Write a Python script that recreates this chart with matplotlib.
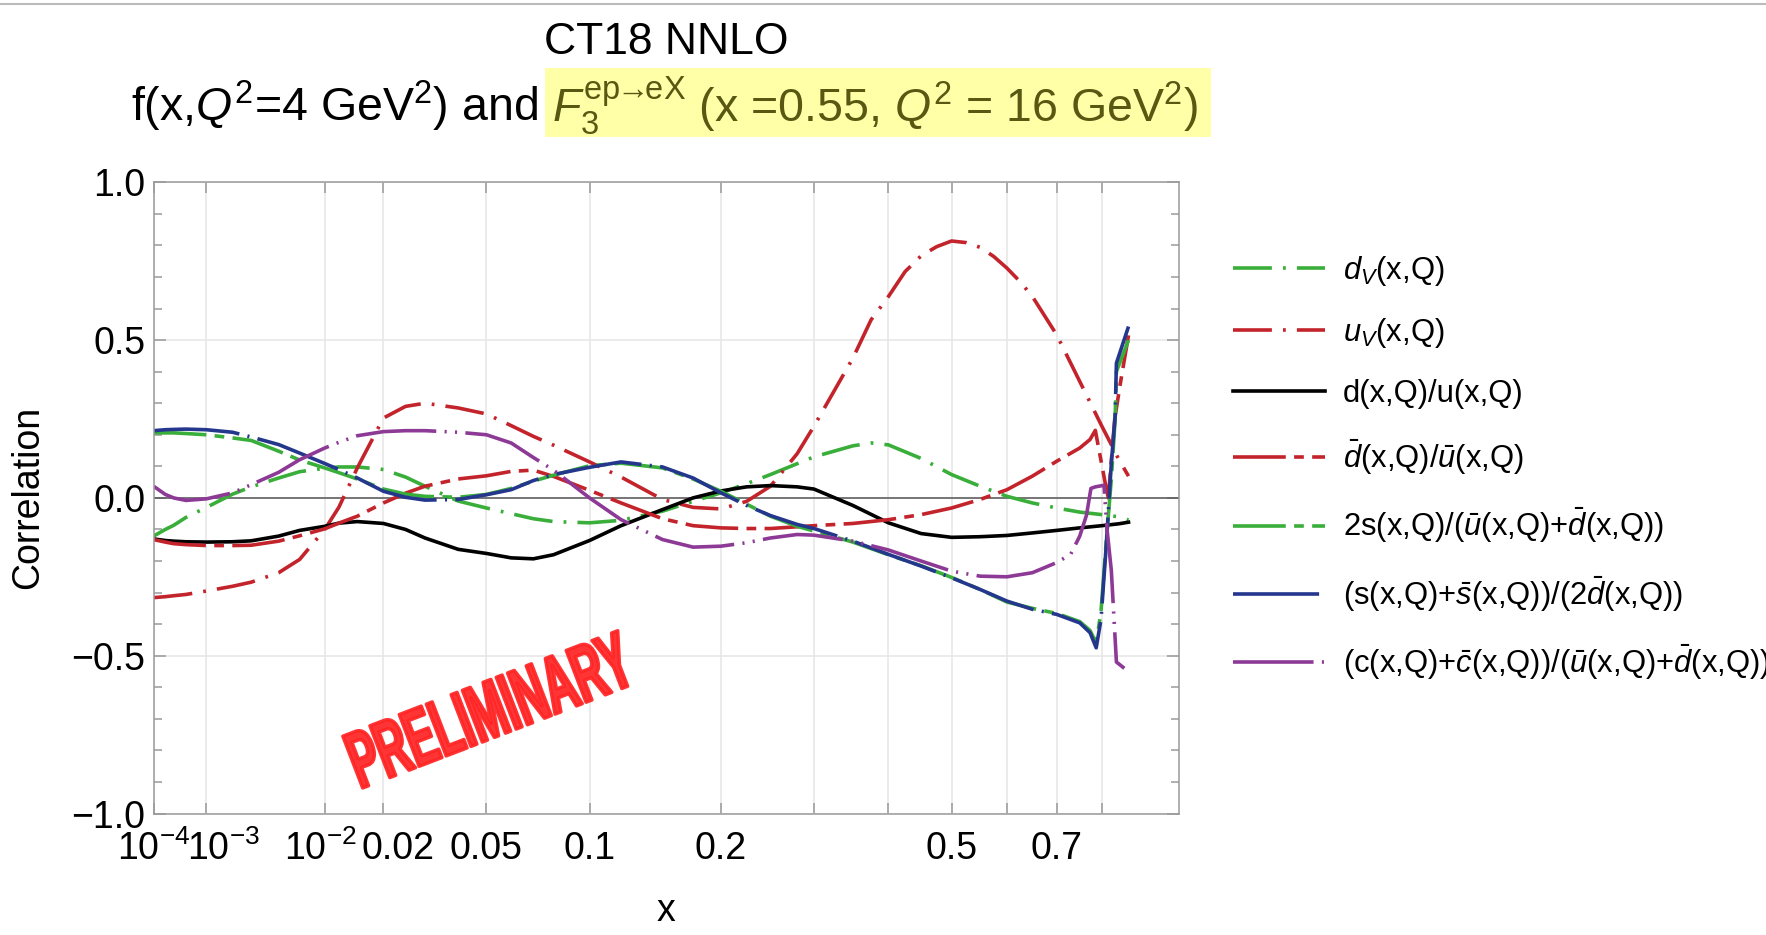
import numpy as np
import matplotlib
matplotlib.use("Agg")
import matplotlib.pyplot as plt
from matplotlib import patheffects
from matplotlib.transforms import Affine2D, ScaledTranslation
from matplotlib.lines import Line2D
from matplotlib.patches import Rectangle

# ---------------------------------------------------------------------------
# Correlation cosines between PDFs at Q^2 = 4 GeV^2 and F3 (x=0.55, Q^2=16)
# ---------------------------------------------------------------------------
x_dv = [1e-4, 2e-4, 3e-4, 5e-4, 1e-3, 2e-3, 3e-3, 5e-3, 7e-3, 0.01,
        0.012, 0.015, 0.02, 0.025, 0.03, 0.04, 0.05, 0.06, 0.07, 0.08,
        0.1, 0.12, 0.15, 0.175, 0.2, 0.225, 0.25, 0.3, 0.35, 0.375,
        0.4, 0.45, 0.5, 0.55, 0.6, 0.65, 0.7, 0.75, 0.8, 0.84, 0.863]
corr_dv = [-0.121, -0.100, -0.087, -0.062, -0.030, 0.012, 0.035, 0.063, 0.083, 0.094,
           0.098, 0.098, 0.090, 0.066, 0.037, -0.010, -0.032, -0.050, -0.066, -0.075,
           -0.079, -0.071, -0.042, -0.011, 0.016, 0.045, 0.074, 0.130, 0.165, 0.174,
           0.168, 0.125, 0.074, 0.037, 0.005, -0.016, -0.032, -0.045, -0.053, -0.060, -0.070]

x_uv = [1e-4, 2e-4, 3e-4, 5e-4, 1e-3, 2e-3, 3e-3, 5e-3, 7e-3, 0.01,
        0.012, 0.015, 0.02, 0.025, 0.03, 0.04, 0.05, 0.06, 0.07, 0.08,
        0.1, 0.12, 0.15, 0.175, 0.2, 0.225, 0.25, 0.28, 0.3, 0.35,
        0.375, 0.4, 0.425, 0.45, 0.475, 0.5, 0.525, 0.55, 0.575, 0.6,
        0.625, 0.65, 0.7, 0.75, 0.8, 0.82, 0.84, 0.863]
corr_uv = [-0.316, -0.313, -0.310, -0.306, -0.295, -0.280, -0.267, -0.237, -0.195, -0.100,
           -0.030, 0.095, 0.253, 0.290, 0.300, 0.285, 0.266, 0.229, 0.195, 0.167,
           0.114, 0.066, -0.005, -0.030, -0.035, -0.011, 0.037, 0.140, 0.227, 0.443,
           0.564, 0.638, 0.717, 0.767, 0.796, 0.814, 0.809, 0.794, 0.765, 0.728,
           0.686, 0.638, 0.517, 0.369, 0.227, 0.174, 0.121, 0.069]

x_du = [1e-4, 2e-4, 3e-4, 5e-4, 1e-3, 2e-3, 3e-3, 5e-3, 7e-3, 0.01,
        0.012, 0.015, 0.02, 0.025, 0.03, 0.04, 0.05, 0.06, 0.07, 0.08,
        0.1, 0.12, 0.15, 0.175, 0.2, 0.225, 0.25, 0.28, 0.3, 0.35,
        0.4, 0.45, 0.5, 0.55, 0.6, 0.65, 0.7, 0.75, 0.8, 0.82, 0.84, 0.863]
corr_du = [-0.130, -0.135, -0.137, -0.139, -0.140, -0.139, -0.136, -0.121, -0.103, -0.090,
           -0.080, -0.075, -0.081, -0.100, -0.127, -0.163, -0.176, -0.190, -0.193, -0.180,
           -0.135, -0.088, -0.037, 0.000, 0.022, 0.035, 0.039, 0.035, 0.028, -0.024,
           -0.079, -0.113, -0.125, -0.123, -0.119, -0.111, -0.103, -0.095, -0.088, -0.085,
           -0.082, -0.077]

x_dbub = [1e-4, 2e-4, 3e-4, 5e-4, 1e-3, 2e-3, 3e-3, 5e-3, 7e-3, 0.01,
          0.012, 0.015, 0.02, 0.025, 0.03, 0.04, 0.05, 0.06, 0.07, 0.08,
          0.1, 0.12, 0.15, 0.175, 0.2, 0.225, 0.25, 0.3, 0.35, 0.4,
          0.45, 0.5, 0.55, 0.6, 0.65, 0.7, 0.75, 0.773, 0.785, 0.808,
          0.815, 0.83, 0.843, 0.863]
corr_dbub = [-0.132, -0.140, -0.145, -0.148, -0.151, -0.151, -0.150, -0.137, -0.120, -0.098,
             -0.080, -0.058, -0.016, 0.015, 0.037, 0.060, 0.070, 0.084, 0.088, 0.068,
             0.024, -0.016, -0.066, -0.088, -0.095, -0.097, -0.097, -0.088, -0.081, -0.069,
             -0.053, -0.032, -0.005, 0.026, 0.069, 0.116, 0.158, 0.185, 0.214, 0.045,
             0.000, 0.250, 0.360, 0.515]

x_strange = [1e-4, 2e-4, 3e-4, 5e-4, 1e-3, 2e-3, 3e-3, 5e-3, 7e-3, 0.01,
             0.012, 0.015, 0.02, 0.025, 0.03, 0.04, 0.05, 0.06, 0.07, 0.08,
             0.1, 0.12, 0.15, 0.175, 0.2, 0.225, 0.25, 0.28, 0.3, 0.35,
             0.4, 0.45, 0.5, 0.55, 0.6, 0.65, 0.7, 0.75, 0.773, 0.787,
             0.798, 0.81, 0.822, 0.831, 0.834, 0.863]
corr_2s = [0.206, 0.206, 0.206, 0.204, 0.200, 0.190, 0.182, 0.148, 0.120, 0.095,
           0.080, 0.060, 0.028, 0.012, 0.005, 0.002, 0.011, 0.030, 0.053, 0.072,
           0.102, 0.110, 0.095, 0.060, 0.021, -0.020, -0.058, -0.090, -0.105, -0.140,
           -0.180, -0.215, -0.252, -0.290, -0.330, -0.350, -0.366, -0.392, -0.420, -0.460,
           -0.360, -0.140, 0.060, 0.250, 0.400, 0.500]
corr_ssb = [0.213, 0.216, 0.217, 0.218, 0.216, 0.208, 0.193, 0.169, 0.142, 0.109,
            0.090, 0.063, 0.021, 0.002, -0.007, -0.005, 0.010, 0.026, 0.055, 0.074,
            0.097, 0.114, 0.098, 0.063, 0.016, -0.024, -0.056, -0.084, -0.097, -0.137,
            -0.179, -0.216, -0.253, -0.290, -0.327, -0.353, -0.369, -0.396, -0.427, -0.475,
            -0.385, -0.153, 0.110, 0.258, 0.427, 0.543]

x_cc = [1e-4, 2e-4, 3e-4, 5e-4, 1e-3, 2e-3, 3e-3, 5e-3, 7e-3, 0.01,
        0.012, 0.015, 0.02, 0.025, 0.03, 0.04, 0.05, 0.06, 0.07, 0.08,
        0.1, 0.12, 0.15, 0.175, 0.2, 0.225, 0.25, 0.28, 0.3, 0.35,
        0.4, 0.45, 0.5, 0.55, 0.6, 0.65, 0.7, 0.73, 0.75, 0.765,
        0.775, 0.785, 0.805, 0.812, 0.822, 0.834, 0.853]
corr_cc = [0.037, 0.011, 0.000, -0.008, -0.003, 0.016, 0.042, 0.081, 0.121, 0.158,
           0.176, 0.197, 0.210, 0.213, 0.213, 0.208, 0.200, 0.174, 0.128, 0.088,
           0.000, -0.069, -0.132, -0.156, -0.153, -0.142, -0.127, -0.116, -0.118, -0.137,
           -0.165, -0.200, -0.232, -0.248, -0.250, -0.237, -0.205, -0.179, -0.121, -0.055,
           0.030, 0.035, 0.040, -0.100, -0.230, -0.520, -0.540]

labels = [r"$d_V$(x,Q)",
          r"$u_V$(x,Q)",
          "d(x,Q)/u(x,Q)",
          r"$\bar{d}$(x,Q)/$\bar{u}$(x,Q)",
          r"2s(x,Q)/($\bar{u}$(x,Q)+$\bar{d}$(x,Q))",
          r"(s(x,Q)+$\bar{s}$(x,Q))/(2$\bar{d}$(x,Q))",
          r"(c(x,Q)+$\bar{c}$(x,Q))/($\bar{u}$(x,Q)+$\bar{d}$(x,Q))"]

xticks = [1e-4, 1e-3, 1e-2, 0.02, 0.05, 0.1, 0.2, 0.3, 0.4, 0.5, 0.6, 0.7, 0.8]
xticklabels = [r"$10^{-4}$", r"$10^{-3}$", r"$10^{-2}$", "0.02", "0.05", "0.1",
               "0.2", "", "", "0.5", "", "0.7", ""]
yticks = [-1.0, -0.5, 0.0, 0.5, 1.0]
yticklabels = ["\u22121.0", "\u22120.5", "0.0", "0.5", "1.0"]

# ---------------------------------------------------------------------------
plt.rcParams.update({
    "font.family": ["Liberation Sans", "DejaVu Sans"],
    "mathtext.fontset": "custom",
    "mathtext.rm": "Liberation Sans",
    "mathtext.it": "Liberation Sans:italic",
    "mathtext.bf": "Liberation Sans:bold",
    "mathtext.sf": "Liberation Sans",
    "lines.scale_dashes": False,
})

GREEN = "#3aae3a"
RED = "#c3242b"
BLUE = "#24378d"
PURPLE = "#8d3a97"
LW = 2.6

DASHDOT = (28, 8, 2, 8)
LONGSHORT = (38, 6, 7, 6)
LONGDOT = (62, 6, 1.5, 6)
LONGDOTDOT = (58, 6, 1.5, 6, 1.5, 6)

W, H = 1766, 935
fig = plt.figure(figsize=(W / 100, H / 100), dpi=100)


def fx(px):
    return px / W


def fy(py):
    return 1 - py / H


ax = fig.add_axes([fx(153.6), fy(813.5), (1178.6 - 153.6) / W, (813.5 - 182.3) / H])

POW = 0.35
ax.set_xscale("function",
              functions=(lambda x: np.power(np.clip(x, 1e-12, None), POW),
                         lambda t: np.power(np.clip(t, 0, None), 1 / POW)))

ax.plot(x_dv, corr_dv, color=GREEN, lw=LW, dashes=DASHDOT, label=labels[0])
ax.plot(x_uv, corr_uv, color=RED, lw=LW, dashes=DASHDOT, label=labels[1])
ax.plot(x_du, corr_du, color="black", lw=LW, label=labels[2])
ax.plot(x_dbub, corr_dbub, color=RED, lw=LW, dashes=LONGSHORT, label=labels[3])
ax.plot(x_strange, corr_2s, color=GREEN, lw=LW, dashes=LONGSHORT, label=labels[4])
ax.plot(x_strange, corr_ssb, color=BLUE, lw=LW, dashes=LONGDOT, label=labels[5])
ax.plot(x_cc, corr_cc, color=PURPLE, lw=LW, dashes=LONGDOTDOT, label=labels[6])

ax.axhline(0.0, color="#555555", lw=1.1, zorder=1.5)

ax.set_xlim(1e-4, 0.99)
ax.set_ylim(-1, 1)
ax.set_xticks(xticks)
ax.set_xticklabels(xticklabels)
ax.set_yticks(yticks)
ax.set_yticklabels(yticklabels)
ax.set_yticks(np.linspace(-1, 1, 21), minor=True)

GRAY = "#9a9a9a"
ax.tick_params(axis="x", which="major", direction="in", length=8, width=1.1,
               color=GRAY, top=True, bottom=True, labelsize=27, pad=12.5)
ax.tick_params(axis="y", which="major", direction="in", length=8.5, width=1.1,
               color=GRAY, left=True, right=True, labelsize=27, pad=6)
ax.tick_params(axis="y", which="minor", direction="in", length=5.5, width=1.1,
               color=GRAY, left=True, right=True)
for sp in ax.spines.values():
    sp.set_color(GRAY)
    sp.set_linewidth(1.1)
ax.set_axisbelow(True)
ax.grid(True, which="major", color="#e6e6e6", lw=1.1)

# crowded labels at 1e-3 and 0.02 are nudged to the right
for tick, dx in zip(ax.xaxis.get_major_ticks(), [0, 17, -4, 15, 0, 0, 0, 0, 0, 0, 0, 0, 0]):
    if dx:
        lab = tick.label1
        lab.set_transform(lab.get_transform() + ScaledTranslation(dx / 100, 0, fig.dpi_scale_trans))

leg = ax.legend(loc="center left", bbox_to_anchor=(fx(1233), fy(468)),
                bbox_transform=fig.transFigure, fontsize=22.3, frameon=False,
                borderpad=0, borderaxespad=0, handlelength=2.97,
                handletextpad=0.58, labelspacing=0.92)

# axis titles
fig.text(fx(28), fy(497), "Correlation", rotation=90, ha="center", va="center", fontsize=27)
fig.text(fx(666), fy(911), "x", ha="center", va="center", fontsize=27)

# headline
fig.text(fx(666), fy(54), "CT18 NNLO", ha="center", va="baseline", fontsize=32)
fig.text(fx(538), fy(121.6), r"f(x,$Q^2$=4 GeV$^2$) and", ha="right", va="baseline",
         fontsize=33.5)
fig.patches.append(Rectangle((fx(545), fy(137.4)), (1211 - 545) / W, (137.4 - 67.6) / H,
                             transform=fig.transFigure, facecolor="#ffffa8",
                             edgecolor="none", zorder=0))
fig.text(fx(552), fy(121.6),
         r"$F_3^{\mathrm{ep}\!\!\rightarrow\!\!\mathrm{eX}}$ (x =0.55, $Q^2$ = 16 GeV$^2$)",
         ha="left", va="baseline", fontsize=33.5, color="#585812")

# thin rule across the top
fig.add_artist(Line2D([0, 1], [fy(4.3), fy(4.3)], transform=fig.transFigure,
                      color="#bbbbbb", lw=1.5))


class Condense(patheffects.AbstractPathEffect):
    """Squeeze glyph outlines along the baseline and give them a thick rim."""

    def __init__(self, sx, rim=2.0):
        super().__init__()
        self.sx = sx
        self.rim = rim

    def draw_path(self, renderer, gc, tpath, affine, rgbFace=None):
        gc0 = renderer.new_gc()
        gc0.copy_properties(gc)
        gc0.set_linewidth(self.rim)
        gc0.set_foreground(rgbFace)
        renderer.draw_path(gc0, tpath, Affine2D().scale(self.sx, 1.0) + affine, rgbFace)
        gc0.restore()


stamp = fig.text(fx(360), fy(789), "PRELIMINARY", rotation=21, rotation_mode="anchor",
                 ha="left", va="baseline", fontsize=58, fontweight="bold",
                 color="#ff2424", alpha=0.92)
stamp.set_path_effects([Condense(0.54, rim=2.5)])

fig.savefig("out.png", dpi=100)
